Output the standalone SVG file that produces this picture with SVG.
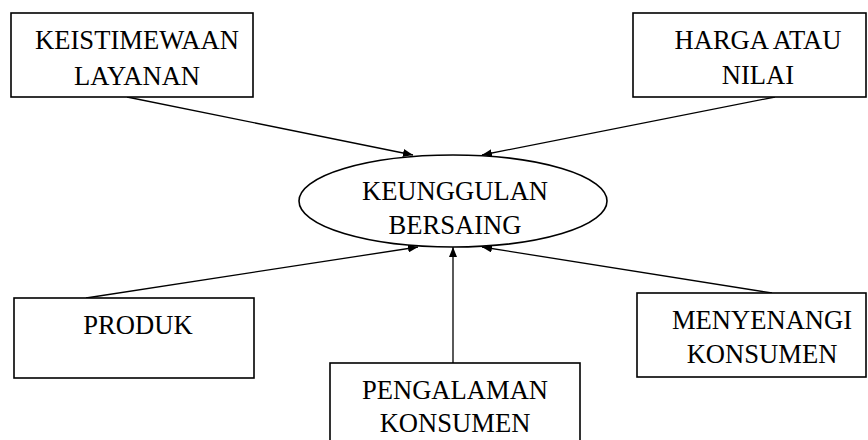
<svg xmlns="http://www.w3.org/2000/svg" width="868" height="440" viewBox="0 0 868 440">
<style>
.box{fill:#fff;stroke:#000;stroke-width:1.6}
.t{font-family:"Liberation Serif","Times New Roman",serif;font-size:26.6px;fill:#000;text-anchor:middle}
.c{stroke:#000;stroke-width:1.3;fill:none;marker-end:url(#ah)}
</style>
<defs>
<marker id="ah" viewBox="0 0 10 8" refX="10" refY="4" markerWidth="10" markerHeight="8" markerUnits="userSpaceOnUse" orient="auto">
<path d="M0,0 L10,4 L0,8 z" fill="#000"/>
</marker>
</defs>
<g id="connectors">
<line class="c" x1="127" y1="97" x2="413" y2="155"/>
<line class="c" x1="775" y1="97" x2="482" y2="155"/>
<line class="c" x1="86" y1="298" x2="418" y2="247"/>
<line class="c" x1="453" y1="363" x2="453" y2="247"/>
<line class="c" x1="772" y1="293" x2="482" y2="247"/>
</g>
<g id="keistimewaan">
<rect class="box" x="11" y="13" width="242" height="84"/>
<text class="t" x="137" y="49">KEISTIMEWAAN</text>
<text class="t" x="137" y="85">LAYANAN</text>
</g>
<g id="harga">
<rect class="box" x="633" y="13" width="233" height="84"/>
<text class="t" x="758" y="49">HARGA ATAU</text>
<text class="t" x="758" y="84">NILAI</text>
</g>
<g id="keunggulan">
<ellipse class="box" cx="453" cy="201" rx="154" ry="46"/>
<text class="t" x="455" y="200">KEUNGGULAN</text>
<text class="t" x="455" y="234">BERSAING</text>
</g>
<g id="produk">
<rect class="box" x="14" y="298" width="240" height="80"/>
<text class="t" x="138" y="334">PRODUK</text>
</g>
<g id="pengalaman">
<rect class="box" x="330" y="363" width="250" height="90"/>
<text class="t" x="455" y="399">PENGALAMAN</text>
<text class="t" x="455" y="432">KONSUMEN</text>
</g>
<g id="menyenangi">
<rect class="box" x="637" y="293" width="229" height="84"/>
<text class="t" x="762" y="329">MENYENANGI</text>
<text class="t" x="762" y="363">KONSUMEN</text>
</g>
</svg>
